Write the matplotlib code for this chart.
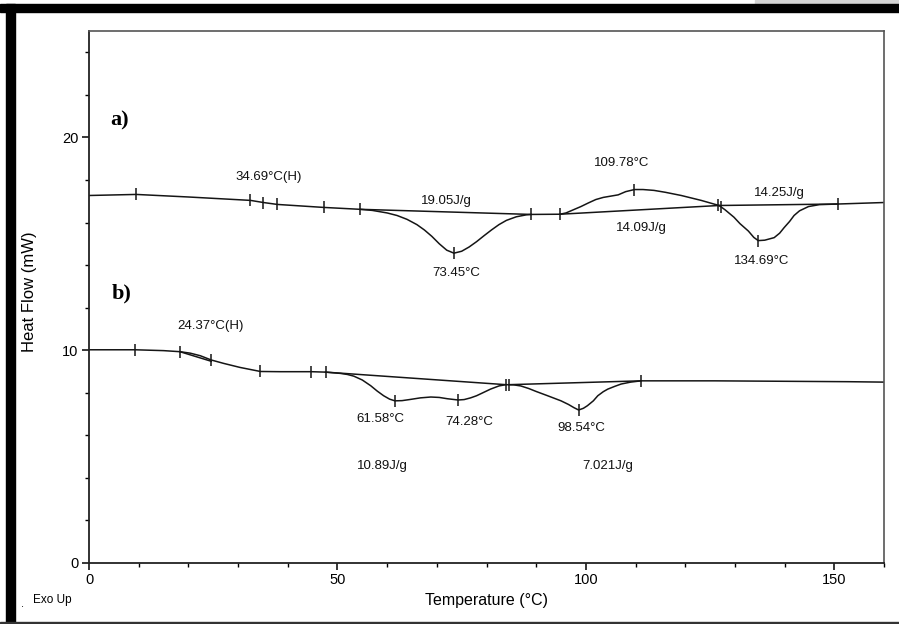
import numpy as np
import matplotlib
matplotlib.use("Agg")
import matplotlib.pyplot as plt
from matplotlib.patches import Rectangle

plt.rcParams['font.family'] = ['Liberation Sans', 'DejaVu Sans']

# curve a) : temperature (°C) vs heat flow (mW)
temp_a = [0, 9.5, 20.0, 32.5, 35.1, 37.9, 47.2, 54.6, 57.0, 60.0, 62.0, 64.0, 66.0, 67.5,
          69.0, 70.5, 72.0, 73.45, 75.0, 76.5, 78.0, 79.5, 81.0, 82.5, 84.0, 86.0, 88.0,
          89.0, 94.8, 96.0, 97.5, 99.0, 100.5, 102.0, 103.5, 105.0, 106.5, 108.0, 109.78,
          111.5, 113.7, 116.0, 119.2, 123.2, 126.8, 128.0, 129.8, 131.0, 132.7, 133.8,
          134.69, 136.0, 137.9, 139.0, 139.9, 141.0, 141.9, 143.0, 144.8, 147.0, 150.8,
          160.0]
flow_a = [17.27, 17.32, 17.20, 17.04, 16.94, 16.85, 16.71, 16.62, 16.57, 16.45, 16.33, 16.15,
          15.90, 15.65, 15.35, 15.00, 14.70, 14.56, 14.65, 14.85, 15.10, 15.38, 15.65,
          15.90, 16.10, 16.27, 16.36, 16.38, 16.39, 16.45, 16.60, 16.75, 16.92, 17.08,
          17.18, 17.24, 17.30, 17.45, 17.55, 17.55, 17.51, 17.42, 17.27, 17.04, 16.80,
          16.60, 16.25, 15.95, 15.60, 15.30, 15.15, 15.17, 15.29, 15.50, 15.76, 16.05,
          16.33, 16.55, 16.75, 16.84, 16.87, 16.94]
ticks_a = [9.5, 32.5, 35.1, 37.9, 47.2, 54.6, 73.45, 89.0, 94.8, 109.78, 126.5, 127.1,
           134.69, 150.8]
base_a = [([54.6, 89.0], [16.62, 16.38]),
          ([94.8, 126.8], [16.39, 16.80]),
          ([126.8, 150.8], [16.80, 16.87])]

# curve b)
temp_b = [0, 9.3, 15.0, 18.3, 20.4, 22.4, 24.6, 27.1, 30.4, 34.5, 38.5, 44.7, 47.6, 50.6,
          52.0, 53.3, 55.0, 56.7, 58.0, 59.3, 60.5, 61.58, 63.0, 64.5, 66.7, 68.8, 70.5,
          72.1, 74.28, 75.5, 76.8, 78.0, 79.0, 80.8, 82.5, 83.9, 85.5, 86.9, 88.5, 90.0,
          92.3, 95.0, 96.5, 97.6, 98.54, 99.5, 100.3, 101.5, 102.4, 103.5, 104.4, 105.8,
          107.1, 109.0, 111.1, 125.9, 146.0, 152.8, 160.0]
flow_b = [10.02, 10.02, 9.98, 9.93, 9.86, 9.74, 9.54, 9.38, 9.19, 9.00, 8.99, 8.99, 8.97,
          8.91, 8.86, 8.78, 8.60, 8.33, 8.08, 7.86, 7.70, 7.62, 7.63, 7.68, 7.76, 7.80,
          7.78, 7.72, 7.66, 7.68, 7.76, 7.86, 7.97, 8.17, 8.32, 8.38, 8.37, 8.32, 8.20,
          8.06, 7.86, 7.62, 7.45, 7.30, 7.19, 7.27, 7.39, 7.62, 7.86, 8.05, 8.17, 8.30,
          8.41, 8.50, 8.56, 8.56, 8.53, 8.52, 8.50]
ticks_b = [9.3, 18.3, 24.6, 34.5, 44.7, 47.6, 61.58, 74.28, 83.9, 84.5, 98.54, 111.1]
base_b = [([18.3, 24.6], [9.93, 9.48]),
          ([47.6, 83.9], [8.97, 8.38]),
          ([84.5, 111.1], [8.38, 8.56])]

labels = [("34.69°C(H)", 36.1, 18.16), ("19.05J/g", 72.0, 16.99), ("73.45°C", 74.0, 13.65),
          ("109.78°C", 107.1, 18.82), ("14.25J/g", 138.9, 17.41), ("14.09J/g", 111.1, 15.76),
          ("134.69°C", 135.3, 14.21), ("24.37°C(H)", 24.4, 11.15), ("61.58°C", 58.7, 6.78),
          ("74.28°C", 76.6, 6.64), ("10.89J/g", 59.1, 4.56), ("98.54°C", 99.0, 6.35),
          ("7.021J/g", 104.4, 4.56)]

fig = plt.figure(figsize=(8.99, 6.24), dpi=100)
ax = fig.add_axes([89 / 899, 1 - 563 / 624, 795 / 899, 532 / 624])

# scanned page frame
W, H = 899, 624
fig.patches.append(Rectangle((755 / W, 1 - 4 / H), 144 / W, 4 / H, transform=fig.transFigure,
                             color='#d4d4d4', zorder=0))
fig.patches.append(Rectangle((0, 1 - 12 / H), 1, 8 / H, transform=fig.transFigure,
                             color='black', zorder=0))
fig.patches.append(Rectangle((6 / W, 0), 9 / W, 1 - 4 / H, transform=fig.transFigure,
                             color='black', zorder=0))
fig.patches.append(Rectangle((0, 0), 1, 2 / H, transform=fig.transFigure,
                             color='#333333', zorder=0))

line_kw = dict(color='#151515', lw=1.1)
ax.plot(temp_a, flow_a, **line_kw)
ax.plot(temp_b, flow_b, **line_kw)
for xs, ys in base_a + base_b:
    ax.plot(xs, ys, **line_kw)

ax.plot(ticks_a, np.interp(ticks_a, temp_a, flow_a), ls='none', marker='|',
        ms=9, mew=1.1, color='#151515')
ax.plot(ticks_b, np.interp(ticks_b, temp_b, flow_b), ls='none', marker='|',
        ms=9, mew=1.1, color='#151515')

for txt, x, y in labels:
    ax.text(x, y, txt, ha='center', va='center', fontsize=9.5, color='#111111')

ax.text(4.2, 20.8, "a)", ha='left', va='center', fontsize=16, fontweight='bold',
        family=['Liberation Serif', 'DejaVu Serif'])
ax.text(4.6, 12.66, "b)", ha='left', va='center', fontsize=16, fontweight='bold',
        family=['Liberation Serif', 'DejaVu Serif'])

ax.set_xlim(0, 160)
ax.set_ylim(0, 25)
ax.set_xticks([0, 50, 100, 150])
ax.set_xticks(np.arange(0, 161, 10), minor=True)
ax.set_yticks([0, 10, 20])
ax.set_yticks(np.arange(0, 25, 2), minor=True)
ax.tick_params(which='major', length=5, width=1.1, labelsize=10.5, pad=2.5)
ax.tick_params(which='minor', length=3, width=1.0)

for side in ['left', 'bottom']:
    ax.spines[side].set_linewidth(1.3)
    ax.spines[side].set_color('#222222')
for side in ['top', 'right']:
    ax.spines[side].set_linewidth(1.2)
    ax.spines[side].set_color('#555555')

ax.set_ylabel("Heat Flow (mW)", fontsize=12)
ax.yaxis.set_label_coords(-0.065, 0.51)
ax.set_xlabel("Temperature (°C)", fontsize=11.5)
ax.xaxis.label.set_va('center')
ax.xaxis.set_label_coords(0.5, -0.07)

fig.text(52 / W, 1 - 600 / H, "Exo Up", ha='center', va='center', fontsize=8.5)
fig.text(22 / W, 1 - 604 / H, ".", ha='center', va='center', fontsize=8)

fig.savefig("out.png", dpi=100)
